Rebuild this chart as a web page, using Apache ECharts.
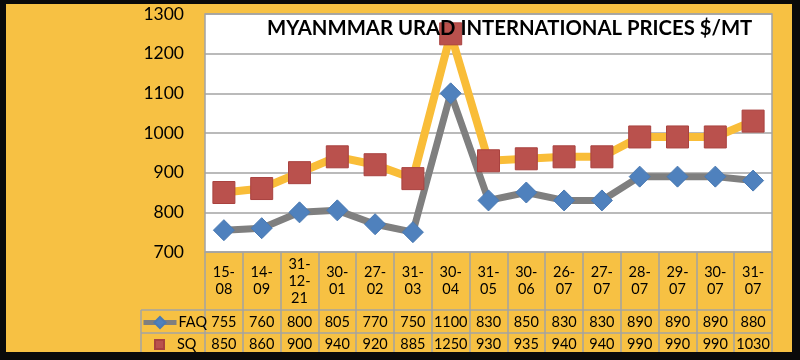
<!DOCTYPE html>
<html>
<head>
<meta charset="utf-8">
<script src="https://cdn.jsdelivr.net/npm/echarts@6/dist/echarts.min.js"></script>
<style>
html,body{margin:0;padding:0;background:#F7C143;}
#chart{width:800px;height:360px;}
</style>
</head>
<body>
<div id="chart"></div>
<script>
const categories = ['15-\n08','14-\n09','31-\n12-\n21','30-\n01','27-\n02','31-\n03','30-\n04','31-\n05','30-\n06','26-\n07','27-\n07','28-\n07','29-\n07','30-\n07','31-\n07'];
const faq = [755,760,800,805,770,750,1100,830,850,830,830,890,890,890,880];
const sq = [850,860,900,940,920,885,1250,930,935,940,940,990,990,990,1030];
const yMin = 700, yMax = 1300, yStep = 100;
const titleText = 'MYANMMAR URAD INTERNATIONAL PRICES $/MT';

const FONT = 'Lato';
const GRAY = '#A3A3A3';
const chart = echarts.init(document.getElementById('chart'));

const rowAxis = (vals, margin) => ({
  type: 'category', gridIndex: 0, data: categories, position: 'bottom', boundaryGap: true,
  axisLine: {show: false}, axisTick: {show: false}, splitLine: {show: false},
  axisLabel: {interval: 0, margin: margin, verticalAlign: 'middle', fontFamily: FONT, fontSize: 14.5, color: '#000',
    formatter: (v, i) => String(vals[i])}
});

chart.setOption({
  backgroundColor: '#F7C143',
  animation: false,
  title: {text: titleText, left: 262, top: 13,
    textStyle: {fontFamily: FONT, fontWeight: 'bold', fontSize: 20.3, color: '#000'}},
  grid: {left: 205, right: 28, top: 14, bottom: 108, show: true, backgroundColor: '#fff',
    borderColor: GRAY, borderWidth: 1.5, containLabel: false},
  legend: [
    {data: ['FAQ'], left: 141, top: 315, padding: 0, itemWidth: 33, itemHeight: 14,
      lineStyle: {width: 5}, textStyle: {fontFamily: FONT, fontSize: 14.5, color: '#000', padding: [0,0,0,-3]}},
    {data: [{name: 'SQ', icon: 'rect'}], left: 154, top: 337, padding: 0, itemWidth: 9, itemHeight: 9,
      textStyle: {fontFamily: FONT, fontSize: 14.5, color: '#000', padding: [0,0,0,8]}}
  ],
  xAxis: [
    {type: 'category', gridIndex: 0, data: categories, boundaryGap: true, position: 'bottom',
      axisLine: {show: false},
      axisTick: {show: true, interval: 0, length: 100, lineStyle: {color: GRAY, width: 1.5}},
      axisLabel: {interval: 0, margin: 29, verticalAlign: 'middle', lineHeight: 17,
        fontFamily: FONT, fontSize: 14.5, color: '#000'}},
    rowAxis(faq, 70),
    rowAxis(sq, 92)
  ],
  yAxis: {type: 'value', min: yMin, max: yMax, interval: yStep,
    axisLine: {show: false}, axisTick: {show: false},
    splitLine: {lineStyle: {color: GRAY, width: 1.5}},
    axisLabel: {margin: 21, fontFamily: FONT, fontSize: 17.5, color: '#000', formatter: v => String(v)}},
  series: [
    {name: 'FAQ', type: 'line', data: faq, symbol: 'diamond', symbolSize: 21,
      lineStyle: {color: '#7F7F7F', width: 7}, itemStyle: {color: '#4F81BD', borderColor: '#4A7AB3', borderWidth: 1},
      z: 2},
    {name: 'SQ', type: 'line', data: sq, symbol: 'rect', symbolSize: 22,
      lineStyle: {color: '#F9BD38', width: 8}, itemStyle: {color: '#BA514D', borderColor: '#A9423F', borderWidth: 1},
      z: 3}
  ],
  graphic: [
    {type: 'line', shape: {x1: 141, y1: 310, x2: 772, y2: 310}, style: {stroke: GRAY, lineWidth: 1.5}},
    {type: 'line', shape: {x1: 141, y1: 333, x2: 772, y2: 333}, style: {stroke: GRAY, lineWidth: 1.5}},
    {type: 'line', shape: {x1: 141, y1: 310, x2: 141, y2: 353}, style: {stroke: GRAY, lineWidth: 1.5}},
    {type: 'rect', shape: {x: 0, y: 0, width: 6, height: 360}, style: {fill: '#0a0a0a'}, z: 100},
    {type: 'rect', shape: {x: 0, y: 0, width: 800, height: 4}, style: {fill: '#0a0a0a'}, z: 100},
    {type: 'rect', shape: {x: 792, y: 0, width: 8, height: 360}, style: {fill: '#0a0a0a'}, z: 100},
    {type: 'rect', shape: {x: 0, y: 352, width: 800, height: 8}, style: {fill: '#0a0a0a'}, z: 100}
  ]
});
</script>
</body>
</html>
